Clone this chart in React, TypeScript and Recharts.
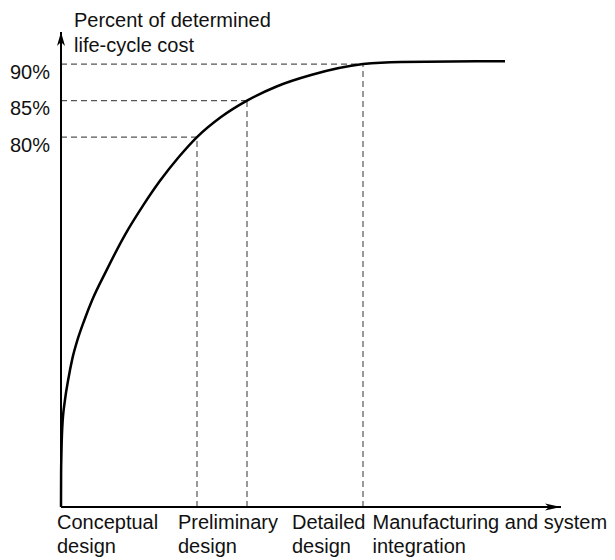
import { ComposedChart, Line, XAxis, YAxis, ReferenceLine, ReferenceDot, Label } from 'recharts';

// design stages along the x axis (0..100 = share of the development timeline)
const stageLabels = [
  ['Conceptual', 'design'],
  ['Preliminary', 'design'],
  ['Detailed', 'design'],
  ['Manufacturing and system', 'integration'],
];
const stageTicks = [0, 24.2, 47, 63.1];

// percent of life-cycle cost that is determined
const costTicks = [80, 85, 90];
const costLabels = ['80%', '85%', '90%'];

// the curve
const curveX = [0, 0.02, 0.08, 0.24, 0.8, 1.46, 2.26, 3.34, 4.66, 6.26, 9, 12.8, 16.4, 19.8, 23.6, 27.2, 32, 37.2, 43, 50, 60.4, 68, 88.8];
const curveY = [29.3, 33.8, 36.4, 40.0, 44.0, 46.8, 49.6, 52.3, 54.9, 57.7, 61.6, 66.6, 70.6, 74.0, 77.3, 80.0, 82.75, 85.0, 86.9, 88.5, 90.0, 90.3, 90.4];

// where the curve passes 80 / 85 / 90 %
const markerX = [27.2, 37.2, 60.4];

const Y_MIN = 29.3;
const Y_MAX = 94.4;
const FONT = '"Liberation Sans", Arial, Helvetica, sans-serif';

const data = curveX.map((x, i) => ({ x, y: curveY[i] }));

function StageTick(props: any) {
  const { x, y, index } = props;
  const lines = stageLabels[index];
  const tx = x - 4;
  return (
    <text x={tx} y={y} fill="#111" fontSize={20} fontFamily={FONT} textAnchor="start">
      <tspan x={tx} dy={14}>{lines[0]}</tspan>
      <tspan x={tx} dy={24}>{lines[1]}</tspan>
    </text>
  );
}

function CostTick(props: any) {
  const { x, y, index } = props;
  return (
    <text x={x - 3} y={y + 14.5} fill="#111" fontSize={20} fontFamily={FONT} textAnchor="end">
      {costLabels[index]}
    </text>
  );
}

function Title(props: any) {
  const vb = props.viewBox;
  const tx = vb.x + vb.width + 13;
  return (
    <text x={tx} y={vb.y - 5.3} fill="#111" fontSize={20} fontFamily={FONT}>
      <tspan x={tx}>Percent of determined</tspan>
      <tspan x={tx} dy={25}>life-cycle cost</tspan>
    </text>
  );
}

const upArrow = (p: any) => (
  <polygon points={`${p.cx},${p.cy} ${p.cx - 4},${p.cy + 14} ${p.cx},${p.cy + 10} ${p.cx + 4},${p.cy + 14}`} fill="#000" />
);
const rightArrow = (p: any) => (
  <polygon points={`${p.cx},${p.cy} ${p.cx - 16},${p.cy - 3.5} ${p.cx - 12},${p.cy} ${p.cx - 16},${p.cy + 3.5}`} fill="#000" />
);

export default function App() {
  return (
    <div style={{ position: 'absolute', left: 0, top: 0 }}>
      <ComposedChart width={615} height={560} data={data} margin={{ top: 32, right: 54, bottom: 0, left: 0 }}>
        <XAxis
          dataKey="x"
          type="number"
          domain={[0, 100]}
          ticks={stageTicks}
          interval={0}
          tick={<StageTick />}
          tickLine={false}
          axisLine={{ stroke: '#000', strokeWidth: 2 }}
          height={53}
        />
        <YAxis
          type="number"
          domain={[Y_MIN, Y_MAX]}
          ticks={costTicks}
          interval={0}
          tick={<CostTick />}
          tickLine={false}
          axisLine={{ stroke: '#000', strokeWidth: 2 }}
          width={61}
        >
          <Label content={<Title />} />
        </YAxis>
        {costTicks.map((c, i) => (
          <ReferenceLine
            key={'h' + c}
            segment={[{ x: 0, y: c }, { x: markerX[i], y: c }]}
            stroke="#555"
            strokeWidth={1.2}
            strokeDasharray="6 4"
          />
        ))}
        {costTicks.map((c, i) => (
          <ReferenceLine
            key={'v' + c}
            segment={[{ x: markerX[i], y: Y_MIN }, { x: markerX[i], y: c }]}
            stroke="#555"
            strokeWidth={1.2}
            strokeDasharray="6 4"
          />
        ))}
        <Line type="monotone" dataKey="y" stroke="#000" strokeWidth={2.5} dot={false} isAnimationActive={false} />
        <ReferenceDot x={0} y={Y_MAX} r={0} ifOverflow="visible" shape={upArrow} />
        <ReferenceDot x={100} y={Y_MIN} r={0} ifOverflow="visible" shape={rightArrow} />
      </ComposedChart>
    </div>
  );
}
